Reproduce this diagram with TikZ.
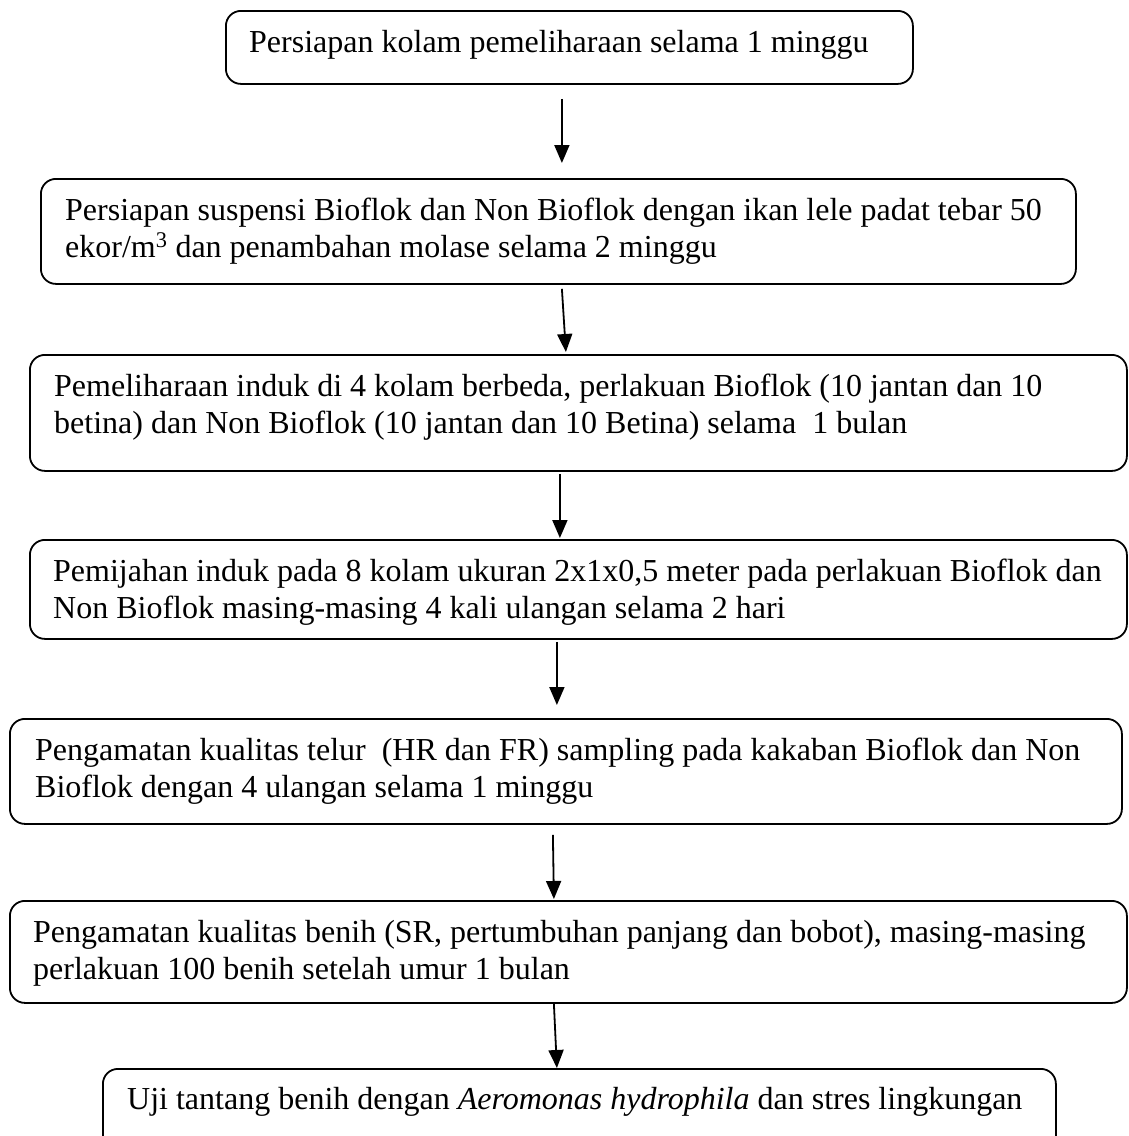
\documentclass[tikz,border=0pt]{standalone}
\usepackage{fontspec}
\setmainfont{Liberation Serif}
\usetikzlibrary{arrows.meta}
\newcommand{\twoln}[2]{\vtop{\hbox{\strut #1}\hbox{\strut #2}}}
\tikzset{
  stepbox/.style={draw=black, line width=1.8pt, rounded corners=15pt, rectangle, inner sep=0pt, anchor=north west},
  txt/.style={inner sep=0pt, anchor=base west, font=\fontsize{32}{37}\selectfont},
  arr/.style={line width=1.8pt, -{Triangle[width=15pt,length=18pt]}}
}
\begin{document}
\begin{tikzpicture}[x=1pt,y=-1pt]
\useasboundingbox (0,0) rectangle (1128,1136);
\clip (0,0) rectangle (1128,1136);
\node[stepbox, minimum width=687pt, minimum height=73pt] (b1) at (225,10) {};
\node[stepbox, minimum width=1035pt, minimum height=105pt] (b2) at (40,178) {};
\node[stepbox, minimum width=1097pt, minimum height=116pt] (b3) at (29,354) {};
\node[stepbox, minimum width=1097pt, minimum height=99pt] (b4) at (29,539) {};
\node[stepbox, minimum width=1112pt, minimum height=105pt] (b5) at (9,718) {};
\node[stepbox, minimum width=1117pt, minimum height=102pt] (b6) at (9,900) {};
\node[stepbox, minimum width=953pt, minimum height=100pt] (b7) at (102,1068) {};

\node[txt] (t1) at ([xshift=24pt,yshift=-42pt]b1.north west) {Persiapan kolam pemeliharaan selama 1 minggu};
\node[txt] (t2) at ([xshift=25pt,yshift=-42pt]b2.north west) {\twoln{Persiapan suspensi Bioflok dan Non Bioflok dengan ikan lele padat tebar 50}{ekor/m\textsuperscript{3} dan penambahan molase selama 2 minggu}};
\node[txt] (t3) at ([xshift=25pt,yshift=-42pt]b3.north west) {\twoln{Pemeliharaan induk di 4 kolam berbeda, perlakuan Bioflok (10 jantan dan 10}{betina) dan Non Bioflok (10 jantan dan 10 Betina) selama\ \ 1 bulan}};
\node[txt] (t4) at ([xshift=24pt,yshift=-42pt]b4.north west) {\twoln{Pemijahan induk pada 8 kolam ukuran 2x1x0,5 meter pada perlakuan Bioflok dan}{Non Bioflok masing-masing 4 kali ulangan selama 2 hari}};
\node[txt] (t5) at ([xshift=26pt,yshift=-42pt]b5.north west) {\twoln{Pengamatan kualitas telur\ \ (HR dan FR) sampling pada kakaban Bioflok dan Non}{Bioflok dengan 4 ulangan selama 1 minggu}};
\node[txt] (t6) at ([xshift=24pt,yshift=-42pt]b6.north west) {\twoln{Pengamatan kualitas benih (SR, pertumbuhan panjang dan bobot), masing-masing}{perlakuan 100 benih setelah umur 1 bulan}};
\node[txt] (t7) at ([xshift=25pt,yshift=-41pt]b7.north west) {Uji tantang benih dengan \textit{Aeromonas hydrophila} dan stres lingkungan};

\draw[arr] ([xshift=-7.5pt,yshift=-14pt]b1.south) -- ([xshift=3.5pt,yshift=15pt]b2.north);
\draw[arr] ([xshift=3.5pt,yshift=-4pt]b2.south) -- ([xshift=-12.5pt,yshift=2pt]b3.north);
\draw[arr] ([xshift=-18.5pt,yshift=-2pt]b3.south) -- ([xshift=-18.5pt,yshift=1pt]b4.north);
\draw[arr] ([xshift=-21.5pt,yshift=-2pt]b4.south) -- ([xshift=-9pt,yshift=13pt]b5.north);
\draw[arr] ([xshift=-13pt,yshift=-10pt]b5.south) -- ([xshift=-14.5pt,yshift=1pt]b6.north);
\draw[arr] ([xshift=-14.5pt,yshift=0pt]b6.south) -- ([xshift=-22.5pt,yshift=0pt]b7.north);
\end{tikzpicture}
\end{document}
